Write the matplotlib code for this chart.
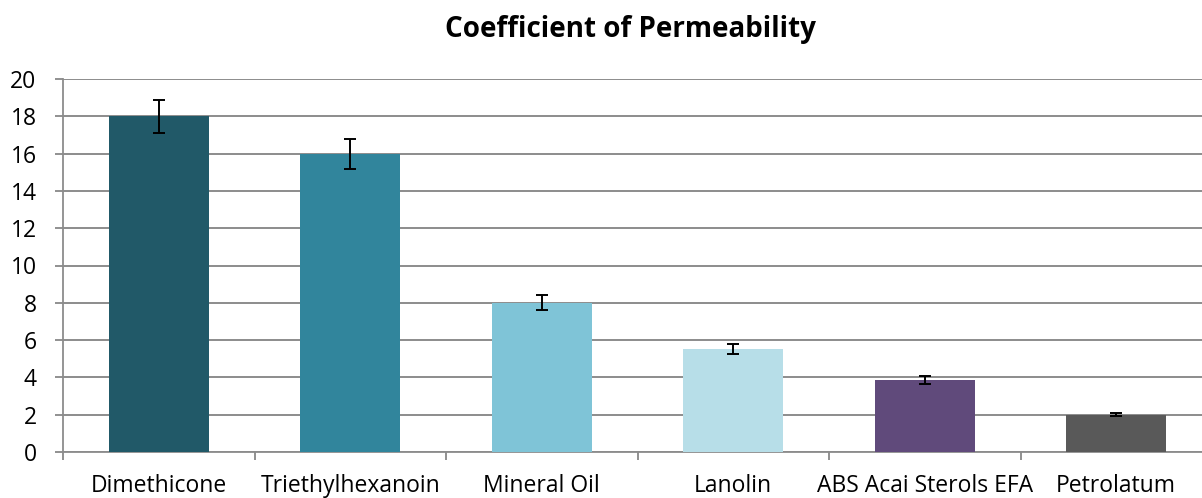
import matplotlib
matplotlib.use("Agg")
import matplotlib.pyplot as plt
import numpy as np

categories = ["Dimethicone", "Triethylhexanoin", "Mineral Oil", "Lanolin",
              "ABS Acai Sterols EFA", "Petrolatum"]
values = [18.0, 16.0, 8.0, 5.5, 3.87, 2.0]
errors = [0.9, 0.8, 0.4, 0.27, 0.2, 0.07]
colors = ["#215968", "#31859C", "#7FC4D7", "#B7DEE8", "#604A7B", "#595959"]
yticks = [0, 2, 4, 6, 8, 10, 12, 14, 16, 18, 20]

plt.rcParams['font.family'] = ['Open Sans', 'DejaVu Sans']

fig = plt.figure(figsize=(12.02, 4.98), dpi=100)
W, H = 1202, 498
left, right, top, bottom = 63, 1212, 79, 452
ax = fig.add_axes([left / W, 1 - bottom / H, (right - left) / W, (bottom - top) / H])

x = np.arange(len(categories))
ax.bar(x, values, width=0.52, color=colors, zorder=3)
ax.errorbar(x, values, yerr=errors, fmt='none', ecolor='black',
            elinewidth=1.4, capsize=4.5, capthick=1.4, zorder=4)

ax.set_xlim(-0.5, len(categories) - 0.5)
ax.set_ylim(0, 20)
ax.set_yticks(yticks)
ax.set_yticklabels([str(t) for t in yticks], fontsize=16.5)
ax.set_xticks(x)
ax.set_xticklabels(categories, fontsize=16.5)
ax.set_xticks(np.arange(len(categories)) - 0.5, minor=True)
ax.tick_params(axis='x', which='major', length=0, pad=16)
ax.tick_params(axis='x', which='minor', length=6, color='#888888', width=1.3)
ax.tick_params(axis='y', length=6, color='#888888', width=1.3, pad=13)

ax.grid(axis='y', color='#8c8c8c', linewidth=1.4, zorder=0)
ax.set_axisbelow(True)
for s in ['top', 'right']:
    ax.spines[s].set_visible(False)
for s in ['left', 'bottom']:
    ax.spines[s].set_color('#8c8c8c')
    ax.spines[s].set_linewidth(1.3)

fig.text(630 / W, 1 - 30 / H, "Coefficient of Permeability", ha='center', va='center',
         fontsize=20, fontweight='bold')

fig.savefig("out.png", dpi=100)
